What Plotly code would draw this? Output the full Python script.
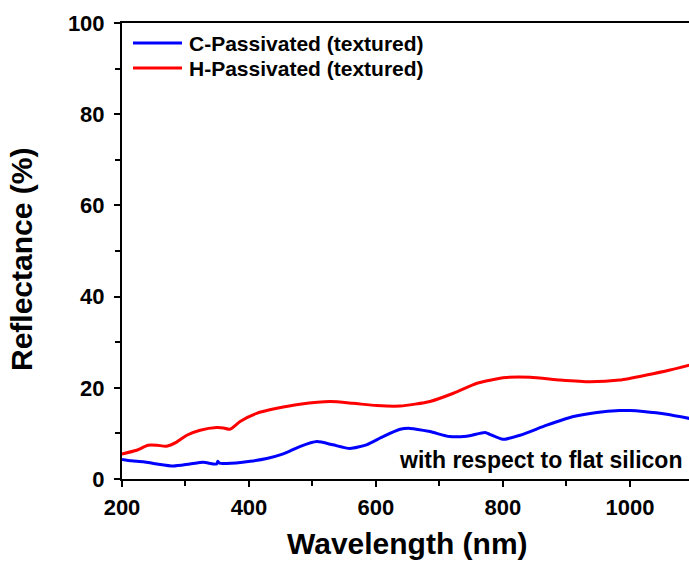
import plotly.graph_objects as go

# Reflectance spectra (wavelength in nm, reflectance in %)
wl_c = [200, 215, 234, 255, 281, 307, 328, 349, 351, 353, 365, 402, 428, 454, 480,
        507, 532, 559, 585, 611, 638, 654, 685, 716, 743, 772, 779, 800, 827, 869,
        911, 948, 984, 1000, 1021, 1058, 1100]
refl_c = [4.3, 4.0, 3.8, 3.3, 2.85, 3.3, 3.65, 3.3, 3.9, 3.5, 3.4, 3.9, 4.5, 5.5, 7.1,
          8.2, 7.5, 6.7, 7.5, 9.3, 10.9, 11.1, 10.4, 9.3, 9.4, 10.2, 9.8, 8.7, 9.6, 11.8,
          13.7, 14.6, 15.0, 15.0, 14.8, 14.2, 13.1]

wl_h = [200, 223, 241, 255, 270, 286, 302, 323, 349, 360, 370, 386, 412, 444, 480,
        528, 564, 601, 638, 685, 722, 759, 785, 800, 843, 890, 937, 984, 1026, 1063, 1100]
refl_h = [5.5, 6.3, 7.4, 7.4, 7.2, 8.1, 9.6, 10.7, 11.3, 11.2, 10.9, 12.6, 14.4, 15.5, 16.4,
          17.0, 16.6, 16.1, 16.0, 17.0, 18.8, 21.0, 21.8, 22.2, 22.3, 21.7, 21.3, 21.7, 22.8, 23.9, 25.2]

names = ["C-Passivated (textured)", "H-Passivated (textured)"]
colors = ["#0000ff", "#ff0000"]

x_ticks = [200, 400, 600, 800, 1000]
y_ticks = [0, 20, 40, 60, 80, 100]

FONT = "Liberation Sans, Arial, sans-serif"

fig = go.Figure()
for wl, refl, name, color in [(wl_c, refl_c, names[0], colors[0]),
                              (wl_h, refl_h, names[1], colors[1])]:
    fig.add_trace(go.Scatter(x=wl, y=refl, mode="lines", name=name,
                             line=dict(color=color, width=3, shape="spline", smoothing=0.6),
                             showlegend=False))

W, H = 689, 563
L, T, B = 122, 23, 84
pw, ph = W - L, H - T - B


def px(xp):
    return (xp - L) / pw


def py(yp):
    return (H - B - yp) / ph


# hand-drawn legend: line samples plus labels
for i, (name, color) in enumerate(zip(names, colors)):
    yy = py(43 + 25 * i)
    fig.add_shape(type="line", xref="paper", yref="paper",
                  x0=px(133), x1=px(182), y0=yy, y1=yy,
                  line=dict(color=color, width=3))
    fig.add_annotation(xref="paper", yref="paper", x=px(187), y=yy,
                       xanchor="left", yanchor="middle", showarrow=False,
                       text=name, font=dict(family=FONT, size=21, color="black", weight="bold"))

fig.add_annotation(xref="paper", yref="paper", x=px(684), y=py(460),
                   xanchor="right", yanchor="middle", showarrow=False,
                   text="with respect to flat silicon",
                   font=dict(family=FONT, size=23, color="black", weight="bold"))

# axis titles
fig.add_annotation(xref="paper", yref="paper", x=px(407), y=py(543),
                   xanchor="center", yanchor="middle", showarrow=False,
                   text="Wavelength (nm)",
                   font=dict(family=FONT, size=30, color="black", weight="bold"))
fig.add_annotation(xref="paper", yref="paper", x=px(21), y=py(260),
                   xanchor="center", yanchor="middle", showarrow=False, textangle=-90,
                   text="Reflectance (%)",
                   font=dict(family=FONT, size=30, color="black", weight="bold"))

fig.update_layout(
    width=W, height=H,
    margin=dict(l=L, r=0, t=T, b=B, pad=0),
    plot_bgcolor="white", paper_bgcolor="white",
    font=dict(family=FONT, size=22, color="black"),
)
fig.update_xaxes(range=[200, 1093], tickvals=x_ticks, ticks="outside", ticklen=6, tickwidth=2,
                 tickcolor="black", showline=True, linewidth=2, linecolor="black",
                 mirror=True, showgrid=False, zeroline=False, ticklabelstandoff=2,
                 minor=dict(dtick=100, ticks="outside", ticklen=5, tickwidth=2, tickcolor="black"),
                 tickfont=dict(family=FONT, size=22, color="black", weight="bold"))
fig.update_yaxes(range=[0, 100], tickvals=y_ticks, ticks="outside", ticklen=6, tickwidth=2,
                 tickcolor="black", showline=True, linewidth=2, linecolor="black",
                 showgrid=False, zeroline=False, ticklabelstandoff=5,
                 minor=dict(dtick=10, ticks="outside", ticklen=5, tickwidth=2, tickcolor="black"),
                 tickfont=dict(family=FONT, size=22, color="black", weight="bold"))

fig.write_html("out.html")
